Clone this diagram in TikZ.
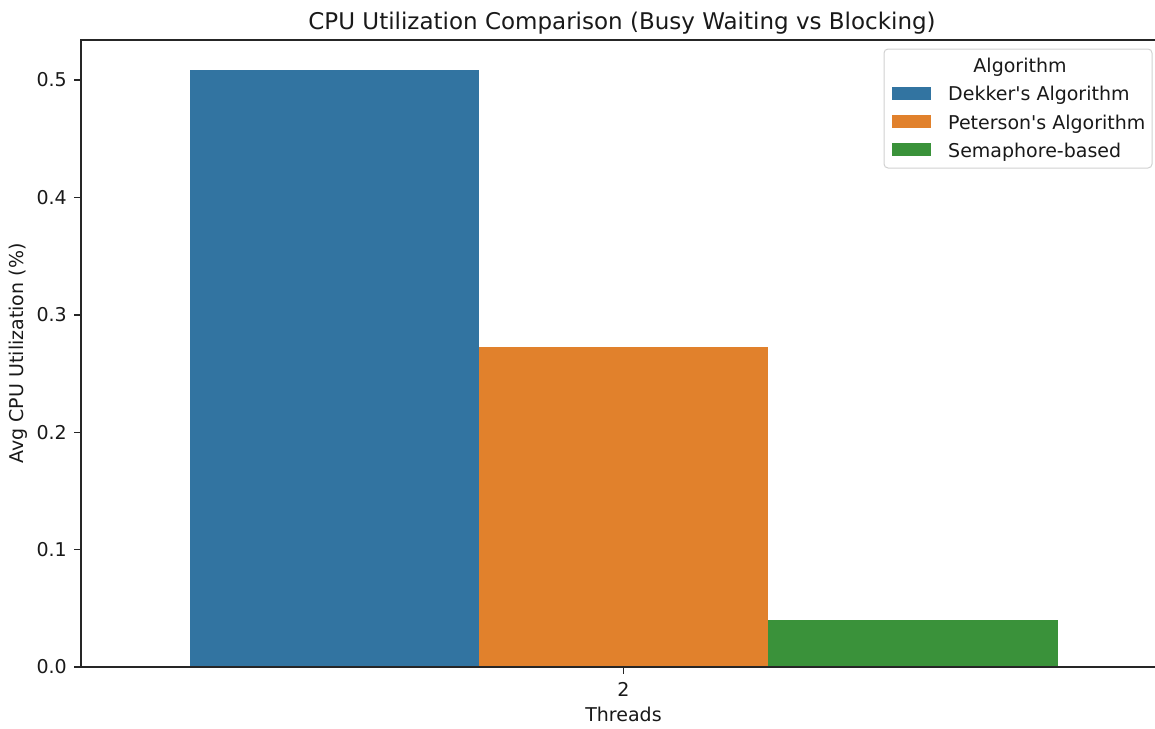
\documentclass[tikz,border=0pt]{standalone}
\usepackage{fontspec}
\setmainfont{DejaVu Sans}[Ligatures=TeXOff]
\definecolor{cblue}{HTML}{3274A1}
\definecolor{corange}{HTML}{E1812C}
\definecolor{cgreen}{HTML}{3A923A}
\tikzset{
  ticklab/.style={font=\fontsize{19}{22}\selectfont, text=black!90, inner sep=0pt},
  axlab/.style={font=\fontsize{19}{22}\selectfont, text=black!90, inner sep=0pt},
  spine/.style={line width=1.6pt, draw=black!85},
  tickmark/.style={line width=1.4pt, draw=black!85},
  legtext/.style={font=\fontsize{19}{22}\selectfont, text=black!90, inner sep=0pt, anchor=base west},
}
\begin{document}
\begin{tikzpicture}[x=1pt,y=-1pt]
  \useasboundingbox (0,0) rectangle (1155,728);
  \clip (0,0) rectangle (1155,728);

  % bars (value scale: 0.1 per 117.4 units, baseline at 667)
  \fill[cblue]   (190,667) rectangle (479,69.5);
  \fill[corange] (479,667) rectangle (768,347);
  \fill[cgreen]  (768,667) rectangle (1058,620);

  % spines
  \draw[spine] (81,40) -- (81,667);
  \draw[spine] (80,667) -- (1166,667);
  \draw[spine] (80,40) -- (1166,40);
  \draw[spine] (1166,40) -- (1166,667);

  % y ticks
  \foreach \v/\yy in {0.0/667,0.1/549.6,0.2/432.2,0.3/314.8,0.4/197.4,0.5/80}{
    \draw[tickmark] (74,\yy) -- (81,\yy);
    \node[ticklab, anchor=east] (yt\v) at (67,\yy) {\v};
  }

  % x tick
  \draw[tickmark] (623.5,667) -- (623.5,674);
  \node[ticklab, anchor=base] (xt2) at (623.5,696) {2};

  % axis labels and title
  \node[axlab, anchor=base] (xlabel) at (623.5,721.5) {Threads};
  \node[axlab, rotate=90] (ylabel) at (18,353.5) {Avg CPU Utilization (\%)};
  \node[font=\fontsize{23}{27}\selectfont, text=black!90, inner sep=0pt, anchor=base] (title) at (622,29.5)
    {CPU Utilization Comparison (Busy Waiting vs Blocking)};

  % legend
  \draw[draw=black!18, fill=white, fill opacity=0.8, line width=1pt, rounded corners=4pt]
    (884,49) rectangle (1152,168);
  \node[font=\fontsize{19}{22}\selectfont, text=black!90, inner sep=0pt, anchor=base] (legtitle) at (1020,72.3) {Algorithm};
  \fill[cblue]   (892,86.8)  rectangle (931,99.8);
  \fill[corange] (892,115.2) rectangle (931,128.2);
  \fill[cgreen]  (892,143.2) rectangle (931,156.2);
  \node[legtext] (leg1) at (948,100.8) {Dekker's Algorithm};
  \node[legtext] (leg2) at (948,129.2) {Peterson's Algorithm};
  \node[legtext] (leg3) at (948,157.2) {Semaphore-based};
\end{tikzpicture}
\end{document}
